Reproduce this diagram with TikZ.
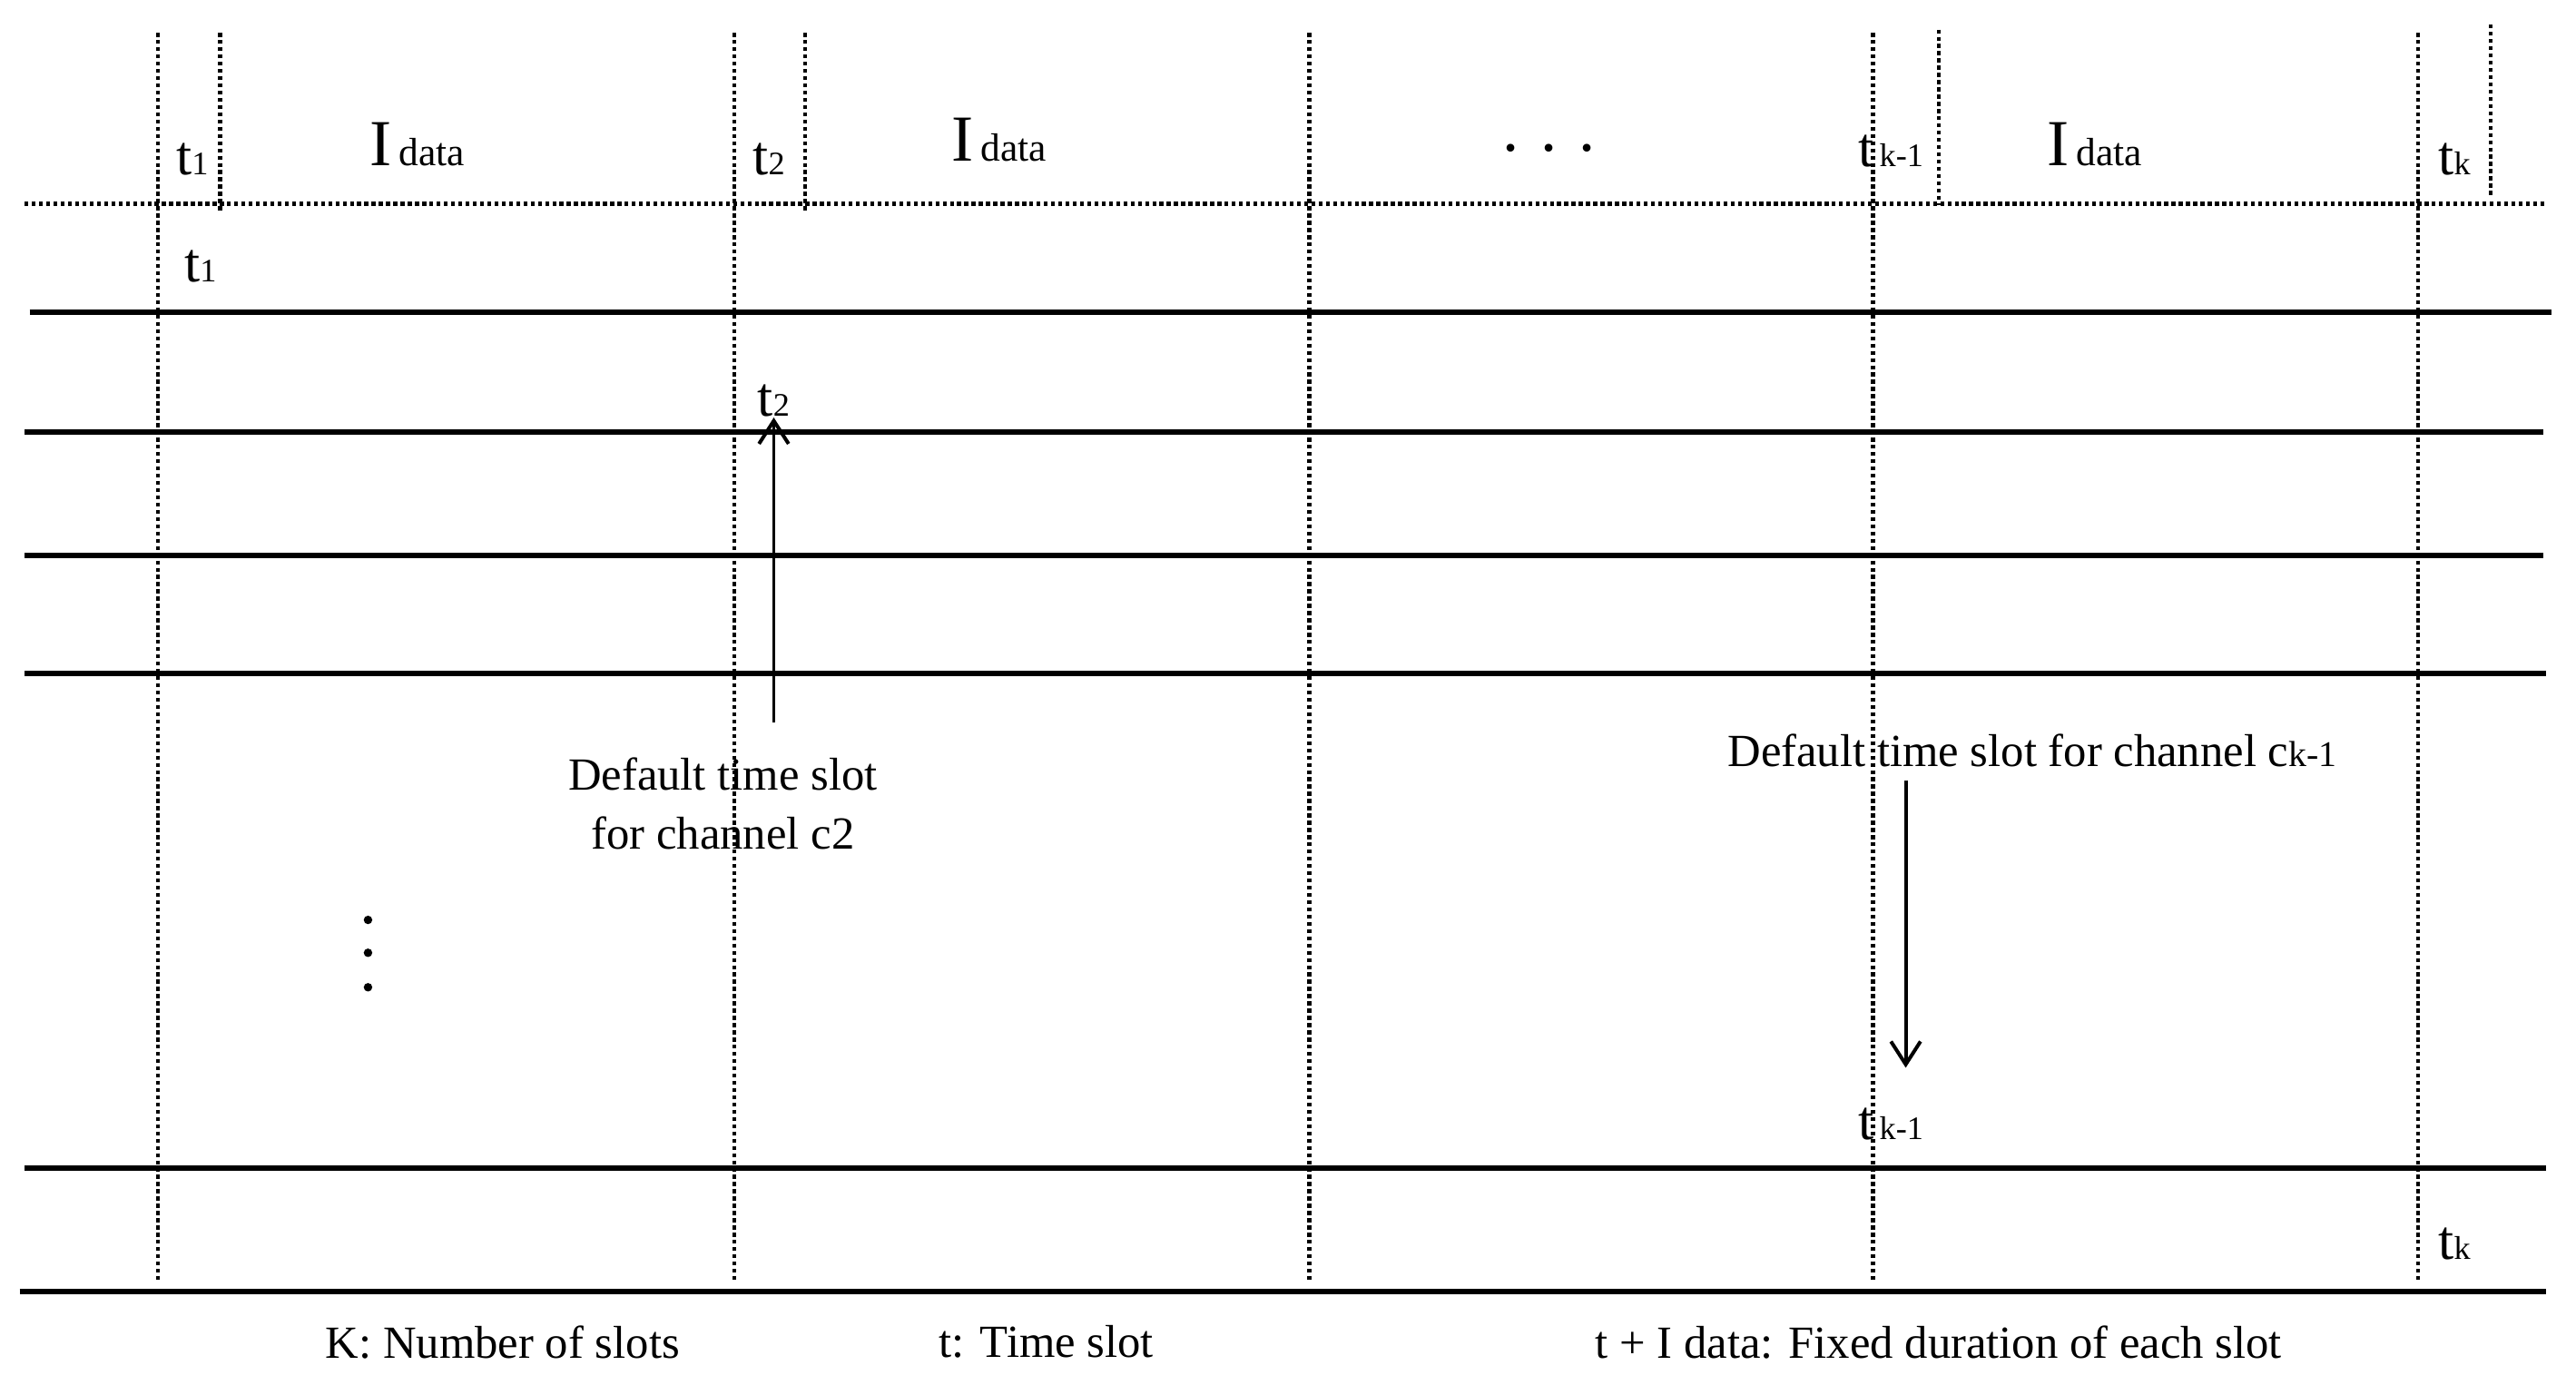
\documentclass[tikz,border=0pt]{standalone}
\usepackage{fontspec}
\setmainfont{Liberation Serif}
\usetikzlibrary{arrows.meta}
\newcommand{\tsub}[1]{{\fontsize{17}{18}\selectfont t}{\fontsize{10}{12}\selectfont #1}}
\newcommand{\idata}{{\fontsize{20}{22}\selectfont I}\,{\fontsize{12}{14}\selectfont data}}
\begin{document}
\begin{tikzpicture}[x=0.5pt,y=-0.5pt,
  vd/.style={densely dotted,line width=1.2pt},
  hl/.style={line width=1.6pt},
  lbl/.style={font=\fontsize{14}{16}\selectfont,inner sep=0pt},
  arr/.style={line width=1.1pt,-{Straight Barb[length=7pt,width=9pt]}}]
\useasboundingbox (0,0) rectangle (1568,849);
% vertical dotted
\foreach \x in {96,447,797,1140,1472} \draw[vd] (\x,20) -- (\x,780);
\draw[vd] (134,20) -- (134,130);
\draw[vd] (490,20) -- (490,130);
\draw[vd] (1180,18) -- (1180,125);
\draw[vd] (1516,15) -- (1516,120);
\draw[vd] (15,124) -- (1550,124);
% solid lines
\draw[hl] (18,190) -- (1553,190);
\draw[hl] (15,263) -- (1548,263);
\draw[hl] (15,338) -- (1548,338);
\draw[hl] (15,410) -- (1550,410);
\draw[hl] (15,711) -- (1550,711);
\draw[hl] (12,786) -- (1550,786);
% header texts
\node[lbl] (h1) at (117,97) {\tsub{1}};
\node[lbl] (d1) at (254,88) {\idata};
\node[lbl] (h2) at (468,97) {\tsub{2}};
\node[lbl] (d2) at (608,85) {\idata};
\node[lbl,font=\fontsize{20}{22}\selectfont] (dots) at (943,90) {. . .};
\node[lbl] (h3) at (1151,92) {\tsub{\,k-1}};
\node[lbl] (d3) at (1275,88) {\idata};
\node[lbl] (h4) at (1494,97) {\tsub{k}};
% row texts
\node[lbl] (r1) at (122,162) {\tsub{1}};
\node[lbl] (r2) at (471,244) {\tsub{2}};
\node[lbl] (r3) at (1151,684) {\tsub{\,k-1}};
\node[lbl] (r4) at (1494,757) {\tsub{k}};
% annotations
\node[lbl,align=center] (a1) at (440,489) {Default time slot\\[2pt] for channel c2};
\coordinate (a1s) at (471,440);
\draw[arr] (a1s) -- (r2.south -| a1s);
\node[lbl] (a2) at (1237,457) {Default time slot for channel c{\fontsize{11}{12}\selectfont k-1}};
\coordinate (a2s) at (1160,475);
\coordinate (a2e) at (1160,650);
\draw[arr] (a2s) -- (a2e);
\foreach \y in {560,580,601} \fill (224,\y) circle (2.6);
% bottom
\node[lbl] (b1) at (306,817) {K: Number of slots};
\node[lbl] (b2) at (637,817) {t: Time slot};
\node[lbl] (b3) at (1180,817) {t + I data: Fixed duration of each slot};
\end{tikzpicture}
\end{document}
